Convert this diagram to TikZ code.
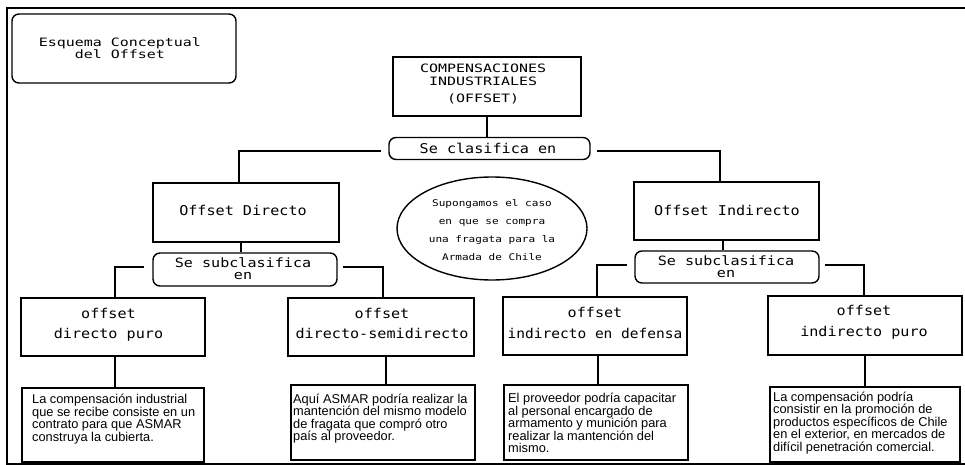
\documentclass[tikz,border=0pt]{standalone}
\usepackage{fontspec}
\usepackage{graphicx}
\setmainfont{Liberation Sans}
\newfontfamily\monoA[FakeStretch=1.12]{DejaVu Sans Mono}
\newfontfamily\monoB[FakeStretch=1.3]{DejaVu Sans Mono}
\newfontfamily\monoC[FakeStretch=1.2]{DejaVu Sans Mono}
\newfontfamily\monoD[FakeStretch=1.18]{DejaVu Sans Mono}
\usetikzlibrary{shapes.geometric}
\newcommand\Fr[1][12pt]{\rule{0pt}{#1}}
\tikzset{
  frameline/.style={line width=2pt},
  bigbox/.style={draw, line width=2.5pt, inner sep=0pt},
  roundbox/.style={draw, line width=1.4pt, rounded corners=7pt, inner sep=0pt},
  txtbox/.style={draw, line width=2pt, inner sep=0pt},
  conn/.style={line width=1.6pt},
  thickconn/.style={line width=2.6pt},
  tt/.style={inner sep=0pt, anchor=north, align=center},
  ta/.style={inner sep=0pt, anchor=north west, align=left,
             font=\fontsize{12.8}{12.5}\selectfont},
  ma/.style={font=\monoA\fontsize{13.5}{#1}\selectfont},
  ma/.default={11},
  md/.style={font=\monoD\fontsize{12.8}{12.5}\selectfont}
}
\begin{document}
\begin{tikzpicture}[x=1pt,y=-1pt]
\useasboundingbox (0,0) rectangle (965,465);
% frame
\coordinate (fTL) at (7,8);
\coordinate (fTR) at (965,8);
\coordinate (fBL) at (7,463.5);
\coordinate (fBR) at (965,463.5);
\draw[frameline] (fTR) -- (fTL) -- (fBL) -- (fBR);

% boxes
\node[roundbox, minimum width=224pt, minimum height=69pt] (title) at (124,48.5) {};
\node[bigbox, minimum width=188pt, minimum height=59pt] (comp) at (487,86.5) {};
\node[roundbox, minimum width=201pt, minimum height=22pt] (clas) at (489.5,148.5) {};
\node[bigbox, minimum width=186pt, minimum height=59pt] (odir) at (246,212.5) {};
\node[bigbox, minimum width=185pt, minimum height=58pt] (oind) at (726.5,211) {};
\node[draw, ellipse, line width=1.4pt, inner sep=0pt, minimum width=190pt, minimum height=103pt] (ell) at (492,228.5) {};
\node[roundbox, minimum width=184pt, minimum height=33pt] (sub1) at (245,269.5) {};
\node[roundbox, minimum width=184pt, minimum height=32pt] (sub2) at (727,267) {};
\node[bigbox, minimum width=184pt, minimum height=58pt] (b1) at (113,327) {};
\node[bigbox, minimum width=186pt, minimum height=58pt] (b2) at (381,327) {};
\node[bigbox, minimum width=184pt, minimum height=58pt] (b3) at (595,326) {};
\node[bigbox, minimum width=194pt, minimum height=59pt] (b4) at (865,325.5) {};
\node[txtbox, minimum width=182pt, minimum height=74pt] (t1) at (113,425) {};
\node[txtbox, minimum width=184pt, minimum height=75pt] (t2) at (383,422.5) {};
\node[txtbox, minimum width=184pt, minimum height=75pt] (t3) at (596,422.5) {};
\node[txtbox, minimum width=190pt, minimum height=75pt] (t4) at (865,424.5) {};

% texts
\node[tt, font=\monoB\fontsize{11.5}{10.7}\selectfont] (titleT) at (120,34) {\Fr Esquema Conceptual\\del Offset};
\node[tt, font=\monoB\fontsize{11.5}{12.8}\selectfont] (compT) at (483,60.5) {\Fr COMPENSACIONES\\INDUSTRIALES\\[4pt](OFFSET)};
\node[tt, ma] (clasT) at (488,141.5) {\Fr Se clasifica en};
\node[tt, ma] (odirT) at (243,203) {\Fr Offset Directo};
\node[tt, ma] (oindT) at (727,203) {\Fr Offset Indirecto};
\node[tt, font=\monoC\fontsize{9.2}{18}\selectfont] (ellT) at (492,194.5) {\Fr Supongamos el caso\\en que se compra\\una fragata para la\\Armada de Chile};
\node[tt, md] (sub1T) at (243,255) {\Fr Se subclasifica\\en};
\node[tt, md] (sub2T) at (726,253) {\Fr Se subclasifica\\en};
\node[tt, ma=20.5] (b1T) at (108.5,306) {\Fr offset\\directo puro};
\node[tt, ma=20.5] (b2T) at (382,306) {\Fr offset\\directo-semidirecto};
\node[tt, ma=21] (b3T) at (595,305) {\Fr offset\\\scalebox{0.96}[1]{indirecto en defensa}};
\node[tt, ma=21] (b4T) at (864,303) {\Fr offset\\indirecto puro};

\node[ta] (t1T) at (32,392.5) {\Fr[11pt]La compensación industrial\\que se recibe consiste en un\\contrato para que ASMAR\\construya la cubierta.};
\node[ta] (t2T) at (293,392) {\Fr[11pt]Aquí ASMAR podría realizar la\\mantención del mismo modelo\\de fragata que compró otro\\país al proveedor.};
\node[ta] (t3T) at (508,391.5) {\Fr[11pt]El proveedor podría capacitar\\al personal encargado de\\armamento y munición para\\realizar la mantención del\\mismo.};
\node[ta] (t4T) at (773,390) {\Fr[11pt]La compensación podría\\consistir en la promoción de\\productos específicos de Chile\\en el exterior, en mercados de\\difícil penetración comercial.};

% x coordinates for connectors
\coordinate (xc) at (487,0);
\coordinate (xL) at (239,0);
\coordinate (xR) at (720,0);
\coordinate (xD) at (241,0);
\coordinate (xI) at (723,0);
\coordinate (x1) at (115,0);
\coordinate (x2) at (383,0);
\coordinate (x3) at (597,0);
\coordinate (x4) at (864,0);
\coordinate (y1) at (115,0);
\coordinate (y2) at (386,0);
\coordinate (y3) at (598,0);
\coordinate (y4) at (865,0);

% connectors
\draw[conn] (comp.south -| xc) -- (clas.north -| xc);
\draw[conn] ([shift={(-7,2.5)}]clas.west) -| (odir.north -| xL);
\draw[conn] ([shift={(6,2.5)}]clas.east) -| (oind.north -| xR);
\draw[conn] (odir.south -| xD) -- (sub1.north -| xD);
\draw[conn] (oind.south -| xI) -- (sub2.north -| xI);
\draw[conn] ([shift={(-8,-2.5)}]sub1.west) -| (b1.north -| x1);
\draw[conn] ([shift={(5,-2.5)}]sub1.east) -| (b2.north -| x2);
\draw[conn] ([shift={(-7,-2)}]sub2.west) -| (b3.north -| x3);
\draw[conn] ([shift={(5,-2)}]sub2.east) -| (b4.north -| x4);
\draw[thickconn] (b1.south -| y1) -- (t1.north -| y1);
\draw[thickconn] (b2.south -| y2) -- (t2.north -| y2);
\draw[thickconn] (b3.south -| y3) -- (t3.north -| y3);
\draw[thickconn] (b4.south -| y4) -- (t4.north -| y4);
\end{tikzpicture}
\end{document}
